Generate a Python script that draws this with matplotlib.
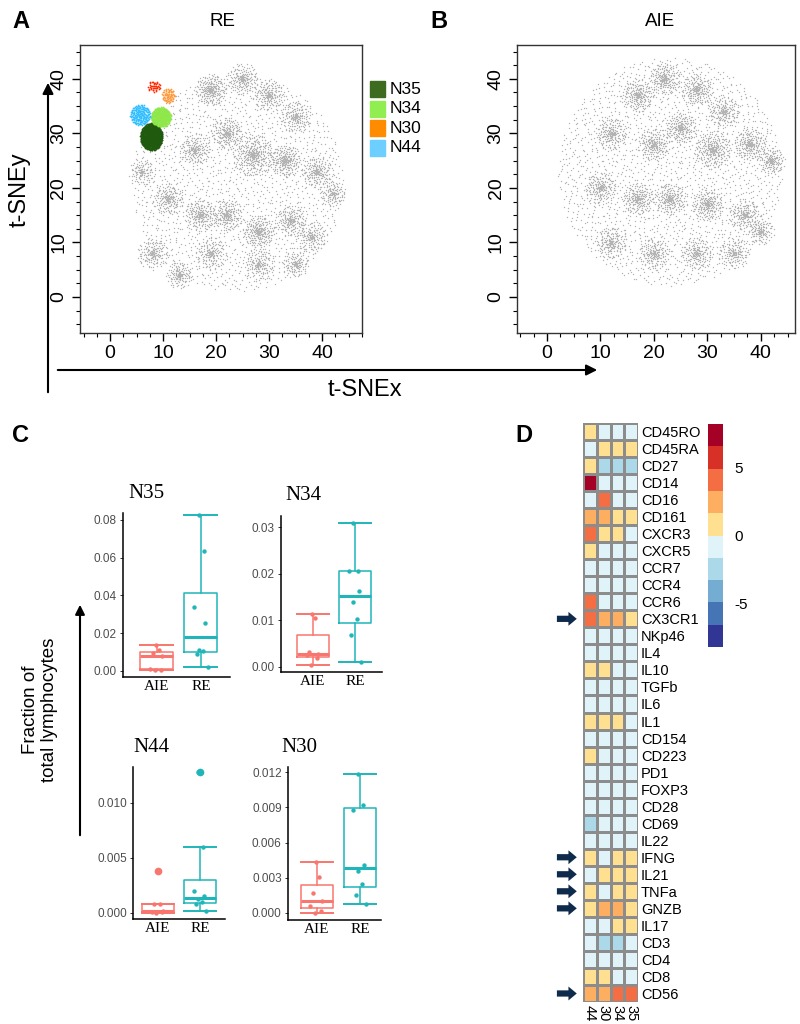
import numpy as np
import matplotlib
matplotlib.use("Agg")
from matplotlib import pyplot as plt
from matplotlib.colors import ListedColormap, BoundaryNorm
from matplotlib.ticker import MultipleLocator

plt.rcParams["axes.unicode_minus"] = False

W, H = 800, 1024
SANS = "Liberation Sans"
SERIF = "Liberation Serif"

# ---- A / B: t-SNE cloud (centre x, centre y, radius, n points)
RE_BLOB_X = [24, 19, 25, 30, 35, 16, 22, 27, 33, 39, 42, 11, 17, 22, 28, 34, 38, 8, 13, 19, 28, 35, 6]
RE_BLOB_Y = [21, 38, 40, 37, 33, 27, 30, 26, 25, 23, 19, 18, 15, 15, 12, 14, 11, 8, 4, 8, 6, 6, 23]
RE_BLOB_R = [20, 3, 3, 3, 3, 3, 3, 4, 3, 3, 2.5, 3, 3, 3, 3, 3, 3, 3, 2.5, 3, 3, 2.5, 2.5]
RE_BLOB_N = [1600, 230, 180, 180, 170, 180, 200, 330, 230, 180, 120, 180, 200, 200, 230, 180, 150, 170, 140, 150, 150, 120, 100]

AIE_BLOB_X = [23, 17, 22, 28, 12, 20, 25, 31, 38, 42, 10, 17, 23, 30, 37, 12, 20, 28, 35, 40, 33]
AIE_BLOB_Y = [23, 37, 40, 38, 30, 28, 31, 27, 28, 25, 20, 18, 18, 17, 15, 10, 8, 8, 8, 12, 34]
AIE_BLOB_R = [21, 3, 3, 3, 3, 3, 3, 3.5, 3, 2.5, 3, 3, 3, 3, 3, 3, 3, 3, 3, 2.5, 3]
AIE_BLOB_N = [1900, 200, 200, 200, 180, 200, 200, 270, 210, 140, 180, 200, 200, 210, 180, 170, 170, 170, 150, 120, 170]

CLUSTER_NAMES = ["N35", "N34", "N30", "N44", "other"]
CLUSTER_X = [7.8, 9.6, 11.0, 5.7, 8.3]
CLUSTER_Y = [29.4, 33.0, 36.9, 33.4, 38.6]
CLUSTER_RX = [2.1, 1.9, 1.2, 1.9, 1.2]
CLUSTER_RY = [2.5, 1.8, 1.4, 1.9, 1.0]
CLUSTER_N = [800, 380, 70, 190, 40]
CLUSTER_COLORS = ["#1f5a0f", "#8fe84a", "#ff9a3c", "#33bfff", "#ff2a00"]
LEGEND_NAMES = ["N35", "N34", "N30", "N44"]
LEGEND_COLORS = ["#3d6b1f", "#90ee50", "#ff8c00", "#6ccfff"]

# ---- C: fraction of total lymphocytes per patient
N35_AIE = [0.0003, 0.0005, 0.0012, 0.0078, 0.0095, 0.011, 0.014]
N35_RE = [0.0022, 0.009, 0.0105, 0.011, 0.0255, 0.034, 0.0635, 0.0825]
N34_AIE = [0.0005, 0.0019, 0.0025, 0.0028, 0.0033, 0.0105, 0.0113]
N34_RE = [0.001, 0.0068, 0.0103, 0.014, 0.0163, 0.0205, 0.0205, 0.031]
N44_AIE = [0.00002, 0.0001, 0.0001, 0.0002, 0.0008, 0.0008, 0.0038]
N44_RE = [0.0002, 0.0008, 0.001, 0.0013, 0.0015, 0.002, 0.006, 0.0128]
N30_AIE = [0.0, 0.0002, 0.0006, 0.001, 0.0017, 0.0031, 0.0043]
N30_RE = [0.0008, 0.0015, 0.0025, 0.0036, 0.0041, 0.0088, 0.0092, 0.0118]
GROUPS = ["AIE", "RE"]
GROUP_COLORS = ["#F8766D", "#1fb5b9"]
JIT_AIE = [-0.05, 0.1, -0.15, 0.12, -0.1, 0.05, -0.02]
JIT_RE = [0.15, -0.1, 0.05, -0.05, 0.1, -0.15, 0.08, -0.05]

# ---- D: heatmap of marker expression per cluster
HEAT_COLS = ["44", "30", "34", "35"]
MARKERS = ["CD45RO", "CD45RA", "CD27", "CD14", "CD16", "CD161", "CXCR3", "CXCR5",
           "CCR7", "CCR4", "CCR6", "CX3CR1", "NKp46", "IL4", "IL10", "TGFb", "IL6",
           "IL1", "CD154", "CD223", "PD1", "FOXP3", "CD28", "CD69", "IL22", "IFNG",
           "IL21", "TNFa", "GNZB", "IL17", "CD3", "CD4", "CD8", "CD56"]
HEAT = [
    [1, -0.5, -0.5, -0.5],
    [-0.5, 1, 1, 1],
    [1, -2.5, -2.5, -2.5],
    [7.5, -0.5, -0.5, -0.5],
    [-0.5, 4, -0.5, -0.5],
    [2.5, 2.5, 1, 1],
    [4, 1, 1, -0.5],
    [1, -0.5, -0.5, -0.5],
    [-0.5, -0.5, -0.5, -0.5],
    [-0.5, -0.5, -0.5, -0.5],
    [4, -0.5, -0.5, -0.5],
    [4, 2.5, 2.5, 1],
    [-0.5, -0.5, -0.5, -0.5],
    [-0.5, -0.5, -0.5, -0.5],
    [1, 1, -0.5, -0.5],
    [-0.5, -0.5, -0.5, -0.5],
    [-0.5, -0.5, -0.5, -0.5],
    [1, 1, 1, -0.5],
    [-0.5, -0.5, -0.5, -0.5],
    [1, -0.5, -0.5, -0.5],
    [-0.5, -0.5, -0.5, -0.5],
    [-0.5, -0.5, -0.5, -0.5],
    [-0.5, -0.5, -0.5, -0.5],
    [-2.5, -0.5, -0.5, -0.5],
    [-0.5, -0.5, -0.5, -0.5],
    [1, -0.5, 1, 1],
    [-0.5, 1, 1, 1],
    [1, -0.5, 1, 1],
    [1, 2.5, 2.5, 1],
    [-0.5, -0.5, 1, 1],
    [-0.5, -2.5, -2.5, -0.5],
    [-0.5, -0.5, -0.5, -0.5],
    [1, 1, -0.5, -0.5],
    [2.5, 2.5, 4, 4],
]
ARROW_MARKERS = ["CX3CR1", "IFNG", "IL21", "TNFa", "GNZB", "CD56"]
HEAT_PALETTE = ["#313695", "#4575b4", "#74add1", "#abd9e9", "#e0f3f8",
                "#fee090", "#fdae61", "#f46d43", "#d73027", "#a50026"]


def add_ax(x0, y0, x1, y1):
    """axes from pixel box (top-left origin)"""
    return fig.add_axes([x0 / W, 1 - y1 / H, (x1 - x0) / W, (y1 - y0) / H])


def fxy(x, y):
    return x / W, 1 - y / H


def halton(n, base, skip):
    out = np.empty(n)
    for k in range(n):
        i = k + 1 + skip
        f, r = 1.0, 0.0
        while i > 0:
            f /= base
            r += f * (i % base)
            i //= base
        out[k] = r
    return out


def blob_points(cx, cy, rx, ry, n, skip, power):
    u = halton(n, 2, skip)
    v = halton(n, 3, skip)
    rho = u ** power
    return cx + rx * rho * np.cos(2 * np.pi * v), cy + ry * rho * np.sin(2 * np.pi * v)


def tsne_panel(ax, bx, by, br, bn, seed):
    skip = seed
    for i, (cx, cy, r, n) in enumerate(zip(bx, by, br, bn)):
        x, y = blob_points(cx, cy, r, r, n, skip, 0.5 if i == 0 else 1.0)
        skip += n
        ax.scatter(x, y, s=1.0, c="#b3b3b3", linewidths=0, rasterized=True)
    ax.set_xlim(-5.66, 47.0)
    ax.set_ylim(-6.6, 46.2)
    ax.set_xticks([0, 10, 20, 30, 40])
    ax.set_yticks([0, 10, 20, 30, 40])
    ax.xaxis.set_minor_locator(MultipleLocator(2.5))
    ax.yaxis.set_minor_locator(MultipleLocator(2.5))
    ax.tick_params(which="major", direction="out", length=6, width=1, labelsize=14, pad=3)
    ax.tick_params(which="minor", direction="out", length=3, width=0.8)
    for lab in ax.get_yticklabels():
        lab.set_rotation(90)
        lab.set_va("center")
    for lab in ax.get_xticklabels() + ax.get_yticklabels():
        lab.set_fontfamily(SANS)
    for s in ax.spines.values():
        s.set_linewidth(1)
        s.set_color("#333333")


fig = plt.figure(figsize=(W / 100, H / 100), dpi=100)

# ---------------- A
axA = add_ax(80, 45, 362, 333)
tsne_panel(axA, RE_BLOB_X, RE_BLOB_Y, RE_BLOB_R, RE_BLOB_N, 0)
skip = 50000
for name, cx, cy, rx, ry, n, col in zip(CLUSTER_NAMES, CLUSTER_X, CLUSTER_Y, CLUSTER_RX,
                                         CLUSTER_RY, CLUSTER_N, CLUSTER_COLORS):
    x, y = blob_points(cx, cy, rx, ry, n, skip, 0.55)
    skip += n
    axA.scatter(x, y, s=1.6, c=col, linewidths=0, rasterized=True)
axA.set_xlim(-5.66, 47.5)
fig.text(*fxy(222, 22), "RE", fontsize=13.5, family=SANS, ha="center", va="center")
fig.text(*fxy(12, 22), "A", fontsize=17, family=SANS, weight="bold", ha="left", va="center")

for i, (name, col) in enumerate(zip(LEGEND_NAMES, LEGEND_COLORS)):
    yc = 89 + i * 19.6
    fig.patches.append(plt.Rectangle(fxy(370, yc + 8), 15 / W, 16 / H, color=col,
                                     transform=fig.transFigure))
    fig.text(*fxy(390, yc), name, fontsize=12.5, family=SANS, va="center", ha="left")

# ---------------- B
axB = add_ax(517, 45, 795, 333)
tsne_panel(axB, AIE_BLOB_X, AIE_BLOB_Y, AIE_BLOB_R, AIE_BLOB_N, 20000)
axB.set_xlim(-5.6, 46.4)
fig.text(*fxy(660, 22), "AIE", fontsize=13.5, family=SANS, ha="center", va="center")
fig.text(*fxy(430, 22), "B", fontsize=17, family=SANS, weight="bold", ha="left", va="center")

# t-SNE axis arrows
fig.add_artist(matplotlib.patches.FancyArrowPatch(fxy(48, 395), fxy(48, 80), transform=fig.transFigure,
                                                  arrowstyle="-|>", mutation_scale=16, lw=1.5, color="black"))
fig.add_artist(matplotlib.patches.FancyArrowPatch(fxy(55, 370), fxy(600, 370), transform=fig.transFigure,
                                                  arrowstyle="-|>", mutation_scale=16, lw=1.5, color="black"))
fig.text(*fxy(20, 190), "t-SNEy", fontsize=17, family=SANS, rotation=90, ha="center", va="center")
fig.text(*fxy(365, 390), "t-SNEx", fontsize=17, family=SANS, ha="center", va="center")

# ---------------- C
fig.text(*fxy(12, 436), "C", fontsize=17, family=SANS, weight="bold", ha="left", va="center")
box_panels = [
    ("N35", N35_AIE, N35_RE, (123, 513, 230, 677), (-0.0032, 0.0837), (0.23, 2.66), [0, 0.02, 0.04, 0.06, 0.08], "{:.2f}", 128, 494),
    ("N34", N34_AIE, N34_RE, (281, 516, 382, 672), (-0.0011, 0.0324), (0.24, 2.64), [0, 0.01, 0.02, 0.03], "{:.2f}", 285, 495),
    ("N44", N44_AIE, N44_RE, (133, 767, 225, 919), (-0.00055, 0.01327), (0.40, 2.60), [0, 0.005, 0.010], "{:.3f}", 133, 747),
    ("N30", N30_AIE, N30_RE, (288, 767, 381, 920), (-0.0006, 0.01243), (0.33, 2.49), [0, 0.003, 0.006, 0.009, 0.012], "{:.3f}", 281, 747),
]
for title, aie, re_, box, ylim, xlim, ticks, fmt, tx, ty in box_panels:
    ax = add_ax(*box)
    data = [aie, re_]
    bp = ax.boxplot(data, positions=[1, 2], widths=0.75, whis=1.5, capwidths=0.75,
                    manage_ticks=False)
    for g, col in enumerate(GROUP_COLORS):
        bp["boxes"][g].set(color=col, lw=1.1)
        bp["medians"][g].set(color=col, lw=2.2)
        for k in (2 * g, 2 * g + 1):
            bp["whiskers"][k].set(color=col, lw=1.1)
            bp["caps"][k].set(color=col, lw=1.4)
        bp["fliers"][g].set(marker="o", markerfacecolor=col, markeredgecolor=col, markersize=4.5)
    for g, (vals, jit) in enumerate(zip(data, [JIT_AIE, JIT_RE])):
        ax.scatter(np.array(jit[:len(vals)]) + g + 1, vals, s=10, c=GROUP_COLORS[g], linewidths=0, zorder=3)
    ax.set_xlim(*xlim)
    ax.set_ylim(*ylim)
    ax.set_yticks(ticks)
    ax.set_yticklabels([fmt.format(t) for t in ticks], fontsize=8.5, family=SANS, color="#4d4d4d")
    ax.set_xticks([1, 2])
    ax.set_xticklabels(GROUPS, fontsize=11, family=SERIF)
    ax.tick_params(axis="x", length=0, pad=2)
    ax.tick_params(axis="y", length=2.5, width=0.7, pad=2, color="#333333")
    ax.spines["top"].set_visible(False)
    ax.spines["right"].set_visible(False)
    for s in ("left", "bottom"):
        ax.spines[s].set_linewidth(1.1)
    fig.text(*fxy(tx, ty), title, fontsize=15, family=SERIF, ha="left", va="center")

fig.text(*fxy(40, 710), "Fraction of\ntotal lymphocytes", fontsize=13.5, family=SANS,
         rotation=90, ha="center", va="center", linespacing=1.2)
fig.add_artist(matplotlib.patches.FancyArrowPatch(fxy(80, 838), fxy(80, 602), transform=fig.transFigure,
                                                  arrowstyle="-|>", mutation_scale=14, lw=1.5, color="black"))

# ---------------- D
fig.text(*fxy(515, 436), "D", fontsize=17, family=SANS, weight="bold", ha="left", va="center")
axD = add_ax(583, 423, 638, 1002)
cmap = ListedColormap(HEAT_PALETTE)
norm = BoundaryNorm(np.linspace(-8.2, 8.2, 11), cmap.N)
mesh = axD.pcolormesh(np.array(HEAT), cmap=cmap, norm=norm, edgecolors="#8c8c8c", linewidth=0.8)
axD.set_xlim(0, len(HEAT_COLS))
axD.set_ylim(len(MARKERS), 0)
axD.set_yticks(np.arange(len(MARKERS)) + 0.5)
axD.set_yticklabels(MARKERS, fontsize=10.5, family=SANS)
axD.yaxis.tick_right()
axD.set_xticks(np.arange(len(HEAT_COLS)) + 0.5)
axD.set_xticklabels(HEAT_COLS, fontsize=10.5, family=SANS, rotation=270)
axD.tick_params(length=0, pad=2)
for s in axD.spines.values():
    s.set_visible(False)
for m in ARROW_MARKERS:
    yy = MARKERS.index(m) + 0.5
    axD.annotate("", xy=(-0.25, yy), xytext=(-2.1, yy), annotation_clip=False,
                 arrowprops=dict(arrowstyle="simple,head_length=0.6,head_width=1.0,tail_width=0.45",
                                 color="#0f2b4c", lw=0))

cax = add_ax(708, 424, 723, 647)
cb = fig.colorbar(mesh, cax=cax, ticks=[-5, 0, 5])
cb.outline.set_visible(False)
cb.minorticks_off()
cax.tick_params(which="both", length=0, labelsize=11, pad=8)
for lab in cax.get_yticklabels():
    lab.set_fontfamily(SANS)

fig.savefig("out.png", dpi=100)
